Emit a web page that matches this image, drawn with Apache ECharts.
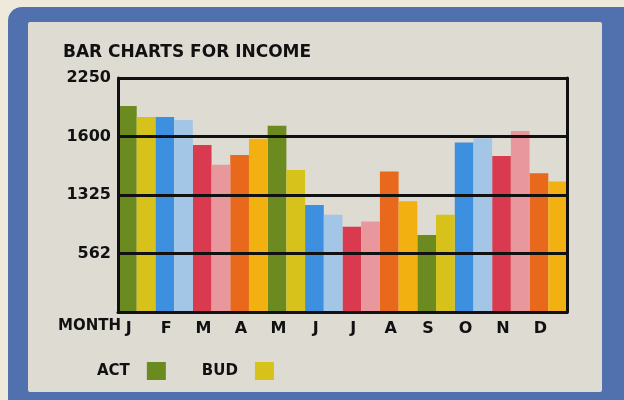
<!DOCTYPE html>
<html>
<head>
<meta charset="utf-8">
<script src="https://cdn.jsdelivr.net/npm/echarts@6/dist/echarts.min.js"></script>
<style>
  html, body { margin: 0; padding: 0; background: #efe9dc; }
  #main { width: 624px; height: 400px; }
</style>
</head>
<body>
<div id="main"></div>
<script>
// data
var months = ['J', 'F', 'M', 'A', 'M', 'J', 'J', 'A', 'S', 'O', 'N', 'D']
var actual = [1980, 1875, 1605, 1510, 1790, 1030, 820, 1350, 740, 1630, 1500, 1335]
var budget = [1875, 1845, 1415, 1665, 1365, 935, 870, 1065, 935, 1670, 1740, 1255]
var tickValues = [562.5, 1125, 1687.5, 2250]
var tickLabels = ['562', '1325', '1600', '2250']

// colours cycle every four months
var actColors = ['#6b8a1f', '#3d8fdf', '#d93a4f', '#e8681c']
var budColors = ['#d6c21a', '#a3c6e6', '#e8979c', '#f2b111']

var shadow = {
  textShadowColor: 'rgba(225, 190, 0, 0.85)',
  textShadowOffsetX: -1,
  textShadowOffsetY: -1,
  textShadowBlur: 0
}
var font = { fontFamily: 'DejaVu Sans', fontWeight: 'bold', color: '#111' }

function withColors (values, colors) {
  return values.map(function (v, i) {
    return { value: v, itemStyle: { color: colors[i % 4] } }
  })
}

var myChart = echarts.init(document.getElementById('main'))

var option = {
  backgroundColor: '#efe9dc',
  animation: false,
  graphic: [
    { type: 'rect', z: -10, shape: { x: 8, y: 7, width: 640, height: 420, r: 14 }, style: { fill: '#5071ae' } },
    { type: 'rect', z: -9, shape: { x: 28, y: 22, width: 574, height: 370, r: 2 }, style: { fill: '#dedbd3' } },
    {
      type: 'text', left: 58, top: 319,
      style: {
        text: 'MONTH',
        fontSize: 15,
        fill: '#111',
        fontFamily: 'DejaVu Sans',
        fontWeight: 'bold',
        textShadowColor: 'rgba(225, 190, 0, 0.85)',
        textShadowOffsetX: -1,
        textShadowOffsetY: -1
      }
    }
  ],
  title: {
    text: 'BAR CHARTS FOR INCOME',
    left: 58,
    top: 39,
    textStyle: Object.assign({ fontSize: 17 }, font, shadow)
  },
  legend: {
    left: 92,
    top: 357,
    align: 'right',
    itemWidth: 19,
    itemHeight: 18,
    itemGap: 36,
    icon: 'rect',
    textStyle: Object.assign({ fontSize: 15, padding: [0, 12, 0, 0] }, font, shadow),
    data: ['ACT', 'BUD']
  },
  grid: { left: 118, right: 57, top: 78, bottom: 88 },
  xAxis: {
    type: 'category',
    data: months,
    axisLine: { lineStyle: { color: '#111', width: 3 } },
    axisTick: { show: false },
    axisLabel: Object.assign({ fontSize: 16, margin: 9, padding: [0, 16, 0, 0] }, font, shadow)
  },
  yAxis: [{
    type: 'value',
    min: 0,
    max: 2250,
    interval: 562.5,
    z: 5,
    axisLine: { show: true, lineStyle: { color: '#111', width: 3 } },
    axisTick: { show: false },
    splitLine: { lineStyle: { color: '#111', width: 3 } },
    axisLabel: Object.assign({
      fontSize: 16,
      margin: 7,
      formatter: function (v) {
        var i = tickValues.indexOf(v)
        return i < 0 ? '' : tickLabels[i]
      }
    }, font, shadow)
  }, {
    type: 'value',
    position: 'right',
    min: 0,
    max: 2250,
    interval: 562.5,
    z: 5,
    axisLine: { show: true, lineStyle: { color: '#111', width: 3 } },
    axisTick: { show: false },
    axisLabel: { show: false },
    splitLine: { show: false }
  }],
  series: [{
    name: 'ACT',
    type: 'bar',
    barGap: '0%',
    barCategoryGap: '0%',
    itemStyle: { color: actColors[0] },
    data: withColors(actual, actColors)
  }, {
    name: 'BUD',
    type: 'bar',
    itemStyle: { color: budColors[0] },
    data: withColors(budget, budColors)
  }]
}

myChart.setOption(option)
</script>
</body>
</html>
